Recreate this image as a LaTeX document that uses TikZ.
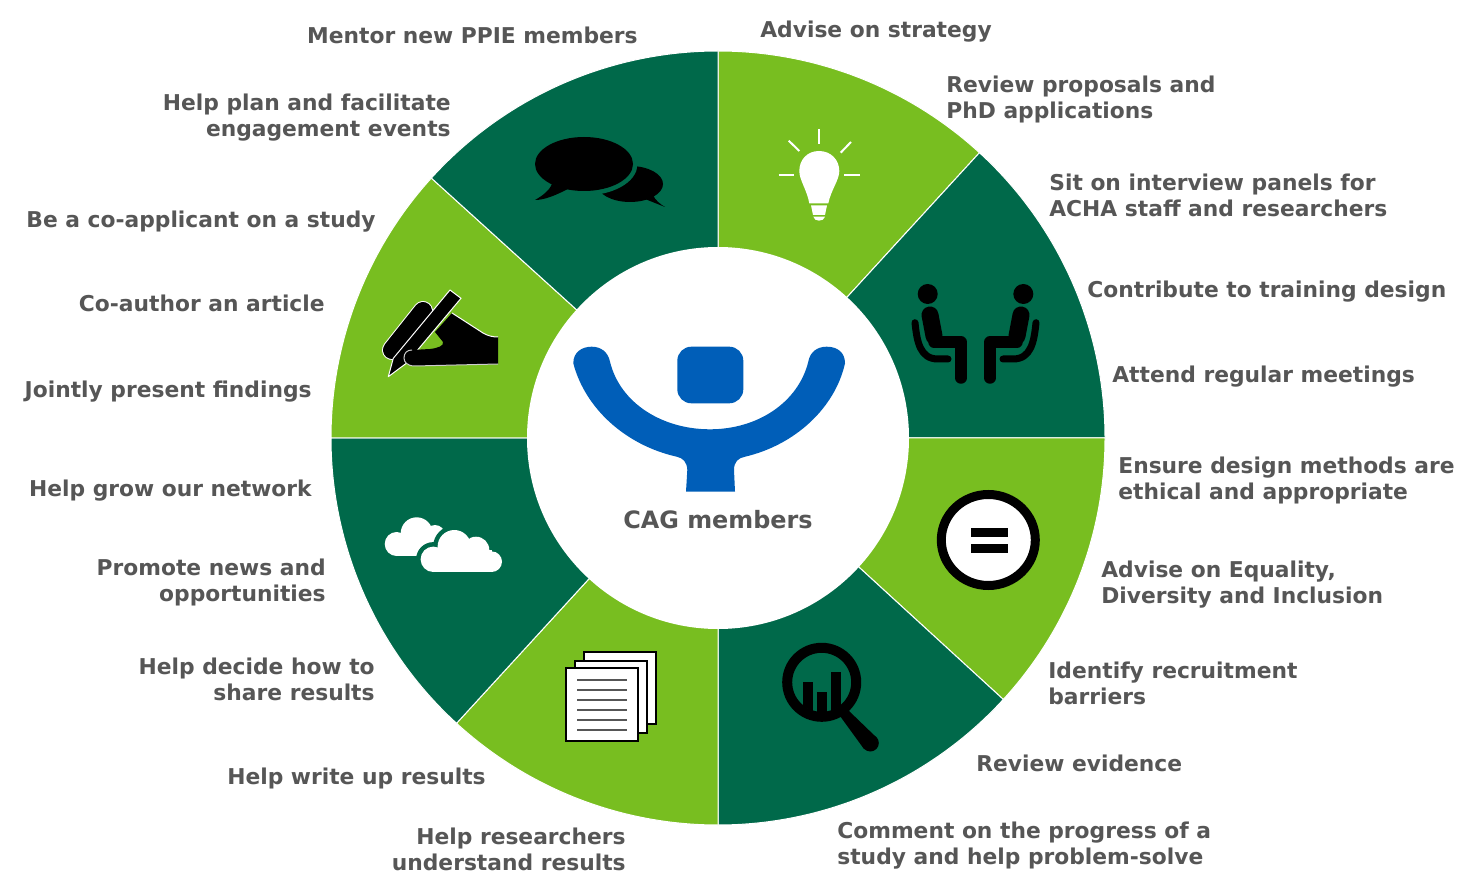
\documentclass[tikz,border=0pt]{standalone}
\usepackage{fontspec}
\setmainfont{DejaVu Sans}
\usetikzlibrary{positioning}

\definecolor{darkleaf}{HTML}{00694A}
\definecolor{lightleaf}{HTML}{78BE20}
\definecolor{logoblue}{HTML}{005EB8}
\definecolor{labelgrey}{HTML}{565656}

\newcommand{\pxw}{0.02cm}

\tikzset{
	segline/.style={draw=white,line width=1*\pxw},
	labeltext/.style={text=labelgrey,inner sep=0pt,font=\fontsize{12.4}{14.8}\selectfont\bfseries,
		execute at begin node=\strut,execute at end node=\strut},
	lefttext/.style={labeltext,anchor=east,align=right},
	righttext/.style={labeltext,anchor=west,align=left},
}

\begin{document}
\begin{tikzpicture}[x=1pt,y=1pt,xscale=0.56906,yscale=-0.56906]

	% page
	\useasboundingbox (0,0) rectangle (1481,896);

	% wheel
	\foreach \a/\b/\c in {-90/-47.5/lightleaf,-47.5/0/darkleaf,0/42.5/lightleaf,42.5/90/darkleaf,
		90/132.5/lightleaf,132.5/180/darkleaf,180/222.2/lightleaf,222.2/270/darkleaf}
		\fill[\c,segline] (718,438) -- +(\a:387) arc[start angle=\a,end angle=\b,radius=387] -- cycle;
	\fill[white] (718,438) circle[radius=191];

	% logo
	\fill[logoblue] (573.3,363.3) .. controls (573.3,352) and (582,346.7) .. (591.7,346.7)
		.. controls (601,346.7) and (608,352) .. (610,361.7)
		.. controls (620,403) and (662,429.3) .. (710,429.3)
		.. controls (757,429.3) and (798,403) .. (808.3,361.7)
		.. controls (810,352) and (817,346.7) .. (826.7,346.7)
		.. controls (837,346.7) and (845,352) .. (845,363.3)
		.. controls (835,408) and (795,445) .. (745,456.7)
		.. controls (738,458) and (734,462) .. (734,470)
		-- (735,491.7) -- (686,491.7) -- (687.3,470)
		.. controls (687,462) and (683,458) .. (676.7,456.7)
		.. controls (625,445) and (585,408) .. (573.3,363.3) -- cycle;
	\fill[logoblue,rounded corners=14*\pxw] (677.3,346.7) rectangle (743.3,403.3);
	\node[labeltext,font=\fontsize{13.6}{16}\selectfont\bfseries] (cag) at (718,522.5) {CAG members};

	% speech bubbles
	\fill[black] (630,184) ellipse[x radius=33,y radius=18];
	\fill[black] (645,199) -- (665,207) .. controls (660,204) and (655,200) .. (653,195) -- cycle;
	\draw[darkleaf,line width=9*\pxw] (584,164) ellipse[x radius=49,y radius=27];
	\fill[black] (584,164) ellipse[x radius=49,y radius=27];
	\fill[black] (552,184) .. controls (549,191) and (542,196) .. (535,200) .. controls (545,200) and (556,195) .. (568,189) -- cycle;

	% light bulb
	\fill[white] (819,151) .. controls (831,151) and (839.3,160) .. (839.3,171)
		.. controls (839.3,180) and (831,190) .. (828.3,203.3) -- (809.3,203.3)
		.. controls (807,190) and (799.3,180) .. (799.3,171)
		.. controls (799.3,160) and (807,151) .. (819,151) -- cycle;
	\fill[white] (811,205.3) -- (827,205.3) -- (825,215) -- (813,215) -- cycle;
	\fill[white] (813.3,216.7) -- (825,216.7) .. controls (824,222) and (814,222) .. (813.3,216.7) -- cycle;
	\draw[white,line width=2*\pxw] (819,129)--(819,144.3);
	\draw[white,line width=2*\pxw] (788.7,140.7)--(799.3,151);
	\draw[white,line width=2*\pxw] (851,142)--(840.7,152.7);
	\draw[white,line width=2*\pxw] (778.7,174.7)--(794,174.7);
	\draw[white,line width=2*\pxw] (844.3,174.7)--(860,174.7);

	% sitting people
	\foreach \s/\o in {1/0,-1/1951}{
		\begin{scope}[shift={(\o,0)},xscale=\s]
			\fill[black] (927.7,294) circle[radius=10];
			\draw[black,line width=17*\pxw,line cap=round] (930,315)--(934,336);
			\draw[black,line width=11.5*\pxw,line cap=round,line join=round] (934,342)--(961,342)--(961,378);
			\draw[black,line width=7*\pxw,line cap=round] (915,322.7) .. controls (917,342) and (920,359) .. (938,359) -- (948,359);
		\end{scope}
	}

	% writing hand
	\draw[white,line width=20*\pxw,line cap=round] (423,311)--(392,350);
	\draw[black,line width=18*\pxw,line cap=round] (423,311)--(392,350);
	\fill[black,draw=white,line width=1*\pxw,line join=round] (450,290) -- (461,298.3) -- (406.7,363) -- (388.3,376.7) -- (393.3,358.3) -- cycle;
	\fill[black] (452,313) -- (483,333) .. controls (488,336) and (493,337) .. (498,337) -- (498,364) -- (415,366)
		.. controls (407,366) and (404,362) .. (404,358) .. controls (404,353) and (407,350) .. (412,350)
		-- (430,349) .. controls (438,348) and (444,346) .. (443,342) -- (435,332) -- cycle;
	\draw[white,line width=1*\pxw] (452,313) -- (483,333) .. controls (488,336) and (493,337) .. (498,337);
	\draw[labelgrey!30,line width=1*\pxw] (498,364) -- (415,366) .. controls (407,366) and (404,362) .. (404,358) .. controls (404,353) and (407,350) .. (412,350);

	% clouds
	\foreach \x/\y/\r in {396.7/544/12,416.7/533.3/16,435/535/10}
		\fill[white] (\x,\y) circle[radius=\r];
	\fill[white] (397,540) rectangle (430,556);
	\foreach \x/\y/\r in {433.3/559.3/12.7,454.3/546.7/16.7,476/550/13.3,491.7/561.7/10.3}
		\fill[darkleaf] (\x,\y) circle[radius=\r+4.5];
	\fill[darkleaf] (433,550) rectangle (492,576);
	\foreach \x/\y/\r in {433.3/559.3/12.7,454.3/546.7/16.7,476/550/13.3,491.7/561.7/10.3}
		\fill[white] (\x,\y) circle[radius=\r];
	\fill[white] (433,550) rectangle (492,572);

	% paper stack
	\foreach \l/\t in {584.3/651.7,575/660.7,566/668.3}
		\draw[black,fill=white,line width=2*\pxw] (\l,\t) rectangle ++(71.5,72.5);
	\foreach \y in {680,690,700,710,720,730}
		\draw[labelgrey,line width=1.3*\pxw] (577.3,\y)--(626.7,\y);

	% magnifier
	\draw[black,line width=10*\pxw] (821.7,682.3) circle[radius=34.5];
	\fill[black] (840,716) -- (848,710) -- (876.5,737.5) -- (864,749) -- cycle;
	\fill[black] (870.3,743) circle[radius=8.5];
	\begin{scope}
		\clip (821.7,682.3) circle[radius=30];
		\fill[black] (802.7,682.3) rectangle (812.7,715);
		\fill[black] (816.7,692.3) rectangle (826.7,715);
		\fill[black] (830.7,671.7) rectangle (840.7,715);
	\end{scope}

	% equals sign
	\draw[black,fill=white,line width=9*\pxw] (988.3,540) ellipse[x radius=47,y radius=45.5];
	\fill[black] (970.7,528.3) rectangle (1008.3,536.7);
	\fill[black] (970.7,544.3) rectangle (1008.3,552.7);

	% right hand labels
	\node[righttext] (strategy) at (760,32.3) {Advise on strategy};
	\node[righttext] (proposals) at (946,100.8) {Review proposals and\\PhD applications};
	\node[righttext] (panels) at (1049,198.8) {Sit on interview panels for\\ACHA staff and researchers};
	\node[righttext] (training) at (1087,292.3) {Contribute to training design};
	\node[righttext] (meetings) at (1112,377.3) {Attend regular meetings};
	\node[righttext] (methods) at (1118,481.8) {Ensure design methods are\\ethical and appropriate};
	\node[righttext] (equality) at (1101,585.8) {Advise on Equality,\\Diversity and Inclusion};
	\node[righttext] (barriers) at (1048,686.8) {Identify recruitment\\barriers};
	\node[righttext] (evidence) at (976,766.3) {Review evidence};
	\node[righttext] (progress) at (837,846.8) {Comment on the progress of a\\study and help problem-solve};

	% left hand labels
	\node[lefttext] (mentor) at (638,38.3) {Mentor new PPIE members};
	\node[lefttext] (events) at (451,118.8) {Help plan and facilitate\\engagement events};
	\node[lefttext] (applicant) at (376,222.3) {Be a co-applicant on a study};
	\node[lefttext] (article) at (325,306.3) {Co-author an article};
	\node[lefttext] (findings) at (312,392.3) {Jointly present findings};
	\node[lefttext] (network) at (312,491.3) {Help grow our network};
	\node[lefttext] (news) at (326,583.8) {Promote news and\\opportunities};
	\node[lefttext] (share) at (375,683.3) {Help decide how to\\share results};
	\node[lefttext] (writeup) at (486,779.3) {Help write up results};
	\node[lefttext] (understand) at (626,852.8) {Help researchers\\understand results};

\end{tikzpicture}
\end{document}
